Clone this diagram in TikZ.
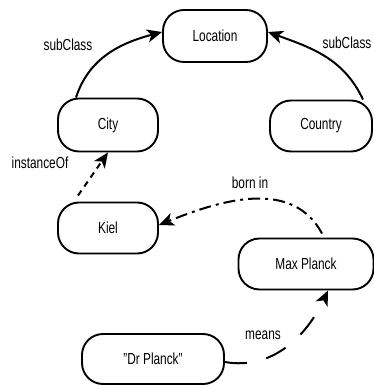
\documentclass[tikz,border=0pt]{standalone}
\usepackage{fontspec}
\setmainfont{Liberation Sans}[FakeStretch=0.74]
\usetikzlibrary{arrows.meta,calc}
\begin{document}
\begin{tikzpicture}[x=1pt,y=1pt,
  box/.style={draw,line width=1.9pt,rounded corners=21pt,inner sep=0pt,font=\fontsize{16}{18}\selectfont},
  lbl/.style={font=\fontsize{16}{18}\selectfont,inner sep=0pt},
  arr/.style={line width=2pt,-{Stealth[length=15pt,width=13pt,inset=4pt]}}]
\useasboundingbox (0,0) rectangle (374,385);
\node[box,minimum width=104pt,minimum height=52pt] (location) at (215,349) {Location};
\node[box,minimum width=100pt,minimum height=53pt] (city) at (108,260) {City};
\node[box,minimum width=102pt,minimum height=51pt] (country) at (321,259) {Country};
\node[box,minimum width=100pt,minimum height=51pt] (kiel) at (108,157) {Kiel};
\node[box,minimum width=135pt,minimum height=51pt] (maxplanck) at (306,121) {Max Planck};
\node[box,minimum width=142pt,minimum height=50pt] (drplanck) at (153,26) {\char34 Dr Planck\char34};
\draw[arr] ([xshift=-32pt]city.north) to[out=72,in=195] ([yshift=4pt]location.west);
\draw[arr] ([xshift=42pt]country.north) to[out=115,in=-20] ([yshift=4pt]location.east);
\draw[arr,dash pattern=on 6pt off 5pt] ([xshift=-30pt,yshift=6pt]kiel.north) -- (city.south);
\draw[arr,dash pattern=on 12pt off 5pt on 3pt off 5pt] ([xshift=16pt,yshift=4pt]maxplanck.north) to[out=118,in=22] ([yshift=3pt]kiel.east);
\draw[arr,dash pattern=on 22pt off 20pt] ([yshift=-3pt]drplanck.east) to[out=-10,in=-115] ([xshift=22pt]maxplanck.south);
\node[lbl] (l1) at (68,340) {subClass};
\node[lbl] (l2) at (347,342) {subClass};
\node[lbl] (l3) at (40,222) {instanceOf};
\node[lbl] (l4) at (250,202) {born in};
\node[lbl] (l5) at (263,50) {means};
\end{tikzpicture}
\end{document}
